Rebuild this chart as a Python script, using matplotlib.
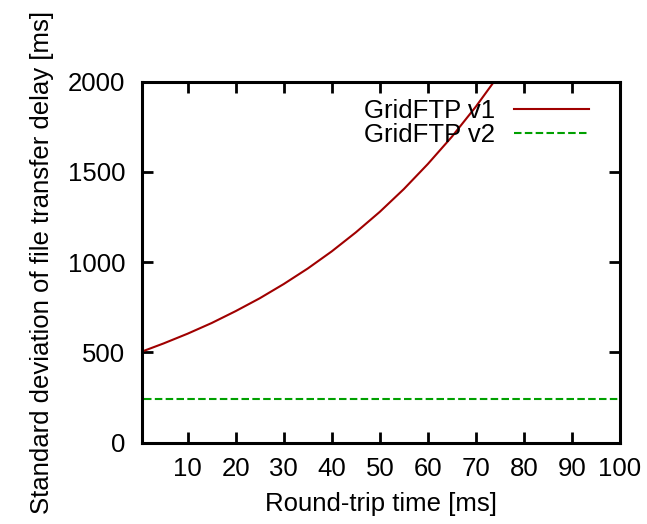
import matplotlib
matplotlib.use("Agg")
import matplotlib.pyplot as plt

plt.rcParams['font.family'] = ['Liberation Sans', 'DejaVu Sans']

# data
rtt_v1 = [1, 5, 10, 15, 20, 25, 30, 35, 40, 45, 50, 55, 60, 65, 70, 75]
std_v1 = [510, 550, 604, 663, 729, 800, 879, 965, 1060, 1165, 1279, 1405, 1544, 1695, 1862, 2045]
rtt_v2 = [1, 100]
std_v2 = [242, 242]
labels = ["GridFTP v1", "GridFTP v2"]
xticks = [10, 20, 30, 40, 50, 60, 70, 80, 90, 100]
yticks = [0, 500, 1000, 1500, 2000]

FS = 18.5
fig = plt.figure(figsize=(6.47, 5.24), dpi=100)
ax = fig.add_axes([142/647, 1-442.7/524, (620-142)/647, (442.7-81.7)/524])

ax.plot(rtt_v1, std_v1, color='#a00000', lw=1.5, label=labels[0])
ax.plot(rtt_v2, std_v2, color='#00a000', lw=1.5, ls=(0, (3.6, 1.6)), label=labels[1])

ax.set_xlim(0.5, 100)
ax.set_ylim(0, 2000)
ax.set_xticks(xticks)
ax.set_yticks(yticks)
ax.tick_params(direction='in', length=8, width=2, top=True, right=True,
               labelsize=FS, colors='black')
ax.tick_params(axis='x', pad=10)
ax.tick_params(axis='y', pad=12)
for s in ax.spines.values():
    s.set_linewidth(2.2)

ax.set_xlabel("Round-trip time [ms]", fontsize=FS, labelpad=8)
ax.set_ylabel("Standard deviation of file transfer delay [ms]", fontsize=FS, labelpad=10)

leg = ax.legend(loc='upper right', frameon=False, markerfirst=False, fontsize=FS,
                handlelength=2.9, handletextpad=0.75, labelspacing=0.0,
                borderaxespad=0.0, borderpad=0.0, bbox_to_anchor=(589/478 - 142/478, 1 - 17/361))

fig.savefig("out.png", dpi=100)
